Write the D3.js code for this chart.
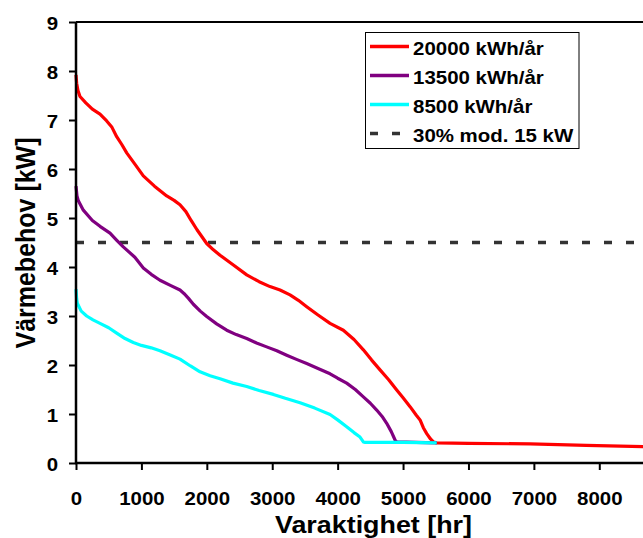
<!DOCTYPE html>
<html>
<head>
<meta charset="utf-8">
<script src="https://cdn.jsdelivr.net/npm/d3@7"></script>
<style>
  html, body { margin: 0; padding: 0; background: #fff; }
  svg { display: block; }
  text { font-family: "Liberation Sans", Arial, sans-serif; font-weight: bold; fill: #000; }
</style>
</head>
<body>
<svg id="chart" width="643" height="538"></svg>
<script>
// ---- data ----
const xTicks = [0, 1000, 2000, 3000, 4000, 5000, 6000, 7000, 8000];
const yTicks = [0, 1, 2, 3, 4, 5, 6, 7, 8, 9];
const seriesNames = ["20000 kWh/år", "13500 kWh/år", "8500 kWh/år"];
const refName = "30% mod. 15 kW";
const refValue = 4.5;

const redHours = [0, 10, 30, 61, 150, 250, 367, 469, 550, 622, 700, 775, 900, 1029, 1200, 1387, 1500, 1590, 1680, 1760, 1850, 1998, 2100, 2202, 2406, 2610, 2800, 2966, 3119, 3272, 3400, 3527, 3700, 3884, 4087, 4250, 4393, 4520, 4648, 4780, 4903, 5000, 5107, 5200, 5260, 5310, 5362, 5420, 5464, 5515, 6000, 6942, 7800, 8760];
const redValues = [7.92, 7.75, 7.6, 7.48, 7.35, 7.22, 7.12, 6.98, 6.85, 6.66, 6.5, 6.33, 6.1, 5.86, 5.65, 5.45, 5.36, 5.27, 5.13, 4.95, 4.76, 4.48, 4.35, 4.24, 4.04, 3.84, 3.70, 3.60, 3.53, 3.43, 3.32, 3.19, 3.02, 2.85, 2.71, 2.52, 2.31, 2.1, 1.9, 1.7, 1.49, 1.33, 1.15, 0.98, 0.88, 0.72, 0.6, 0.49, 0.43, 0.41, 0.40, 0.39, 0.36, 0.33];

const purpleHours = [0, 15, 36, 112, 250, 367, 520, 620, 723, 900, 1029, 1150, 1284, 1450, 1590, 1650, 1720, 1794, 1900, 1998, 2150, 2304, 2450, 2610, 2760, 2915, 3070, 3221, 3380, 3527, 3700, 3884, 4000, 4138, 4270, 4393, 4500, 4597, 4680, 4750, 4820, 4878, 4903, 5200, 5515];
const purpleValues = [5.65, 5.45, 5.35, 5.16, 4.95, 4.83, 4.69, 4.55, 4.41, 4.2, 3.98, 3.85, 3.73, 3.62, 3.53, 3.46, 3.36, 3.24, 3.1, 2.99, 2.84, 2.71, 2.62, 2.54, 2.45, 2.37, 2.29, 2.2, 2.11, 2.03, 1.93, 1.82, 1.73, 1.63, 1.5, 1.35, 1.22, 1.08, 0.95, 0.81, 0.64, 0.47, 0.43, 0.42, 0.41];

const cyanHours = [0, 10, 20, 80, 163, 260, 367, 500, 622, 750, 876, 1000, 1150, 1284, 1450, 1590, 1750, 1896, 2050, 2202, 2400, 2610, 2800, 3017, 3200, 3425, 3650, 3884, 4000, 4138, 4250, 4342, 4393, 4420, 5000, 5515];
const cyanValues = [3.55, 3.35, 3.26, 3.1, 3.0, 2.92, 2.85, 2.76, 2.65, 2.54, 2.46, 2.4, 2.35, 2.29, 2.2, 2.12, 1.98, 1.86, 1.78, 1.72, 1.63, 1.56, 1.48, 1.4, 1.32, 1.23, 1.12, 0.99, 0.88, 0.74, 0.62, 0.53, 0.43, 0.42, 0.42, 0.41];

const colors = ["#ff0000", "#800080", "#00ffff"];
const refColor = "#333333";

// ---- layout ----
const svg = d3.select("#chart");
const x = d3.scaleLinear().domain([0, 8760]).range([76, 649]);
const y = d3.scaleLinear().domain([0, 9]).range([463, 22]);
const STRETCH = 1.1;
function stretch(sel) {
  sel.each(function () {
    const L = this.getComputedTextLength();
    d3.select(this).attr("textLength", L * STRETCH).attr("lengthAdjust", "spacingAndGlyphs");
  });
}

// top border
svg.append("line").attr("x1", x(0)).attr("x2", 643).attr("y1", y(9)).attr("y2", y(9))
  .attr("stroke", "#000").attr("stroke-width", 2);

// reference dashed line
svg.append("line").attr("x1", x(0)).attr("x2", x(8760)).attr("y1", y(refValue)).attr("y2", y(refValue))
  .attr("stroke", refColor).attr("stroke-width", 3.5).attr("stroke-dasharray", "8,14");

// series
const series = [
  { h: redHours, v: redValues, c: colors[0] },
  { h: purpleHours, v: purpleValues, c: colors[1] },
  { h: cyanHours, v: cyanValues, c: colors[2] }
];
const line = d3.line().x(d => x(d[0])).y(d => y(d[1]));
series.forEach(s => {
  svg.append("path").datum(s.h.map((h, i) => [h, s.v[i]]))
    .attr("d", line).attr("fill", "none").attr("stroke", s.c)
    .attr("stroke-width", 3.2).attr("stroke-linejoin", "round");
});

// axes
const yAxis = svg.append("g").attr("transform", `translate(${x(0)},0)`)
  .call(d3.axisLeft(y).tickValues(yTicks).tickSize(7).tickPadding(11).tickFormat(d3.format("d")));
const xAxis = svg.append("g").attr("transform", `translate(0,${y(0)})`)
  .call(d3.axisBottom(x).tickValues(xTicks).tickSize(7).tickPadding(20).tickFormat(d3.format("d")));
[yAxis, xAxis].forEach(a => {
  a.select(".domain").remove();
  a.selectAll(".tick line").attr("stroke", "#000").attr("stroke-width", 2);
  a.selectAll("text").attr("font-size", 18.6).attr("font-family", null).attr("fill", "#000");
});
yAxis.selectAll("text").attr("dy", null).attr("y", 7);
xAxis.selectAll("text").attr("dy", null).attr("y", 42);
stretch(yAxis.selectAll("text"));
stretch(xAxis.selectAll("text"));
// axis lines
svg.append("line").attr("x1", x(0)).attr("x2", x(0)).attr("y1", y(9)).attr("y2", y(0) + 1)
  .attr("stroke", "#000").attr("stroke-width", 2.5);
svg.append("line").attr("x1", x(0) - 1).attr("x2", 643).attr("y1", y(0)).attr("y2", y(0))
  .attr("stroke", "#000").attr("stroke-width", 2.5);

// axis titles
svg.append("text").attr("x", 373.5).attr("y", 533).attr("text-anchor", "middle")
  .attr("font-size", 23.3).attr("textLength", 197).attr("lengthAdjust", "spacingAndGlyphs")
  .text("Varaktighet [hr]");
svg.append("text").attr("transform", "translate(35,243) scale(1.07,1) rotate(-90)")
  .attr("text-anchor", "middle").attr("font-size", 25)
  .text("Värmebehov [kW]");

// legend
const leg = svg.append("g");
leg.append("rect").attr("x", 365.5).attr("y", 32.5).attr("width", 213.5).attr("height", 116)
  .attr("fill", "#fff").attr("stroke", "#000").attr("stroke-width", 1);
const legItems = seriesNames.map((n, i) => ({ n, c: colors[i], dash: null, w: 3.5 }))
  .concat([{ n: refName, c: refColor, dash: "8,14", w: 3.5 }]);
legItems.forEach((d, i) => {
  const by = 55 + i * 29;
  leg.append("line").attr("x1", 370).attr("x2", 409).attr("y1", by - 8.5).attr("y2", by - 8.5)
    .attr("stroke", d.c).attr("stroke-width", d.w).attr("stroke-dasharray", d.dash);
  leg.append("text").attr("x", 413).attr("y", by).attr("font-size", 18.6).text(d.n);
});
stretch(leg.selectAll("text"));
</script>
</body>
</html>
